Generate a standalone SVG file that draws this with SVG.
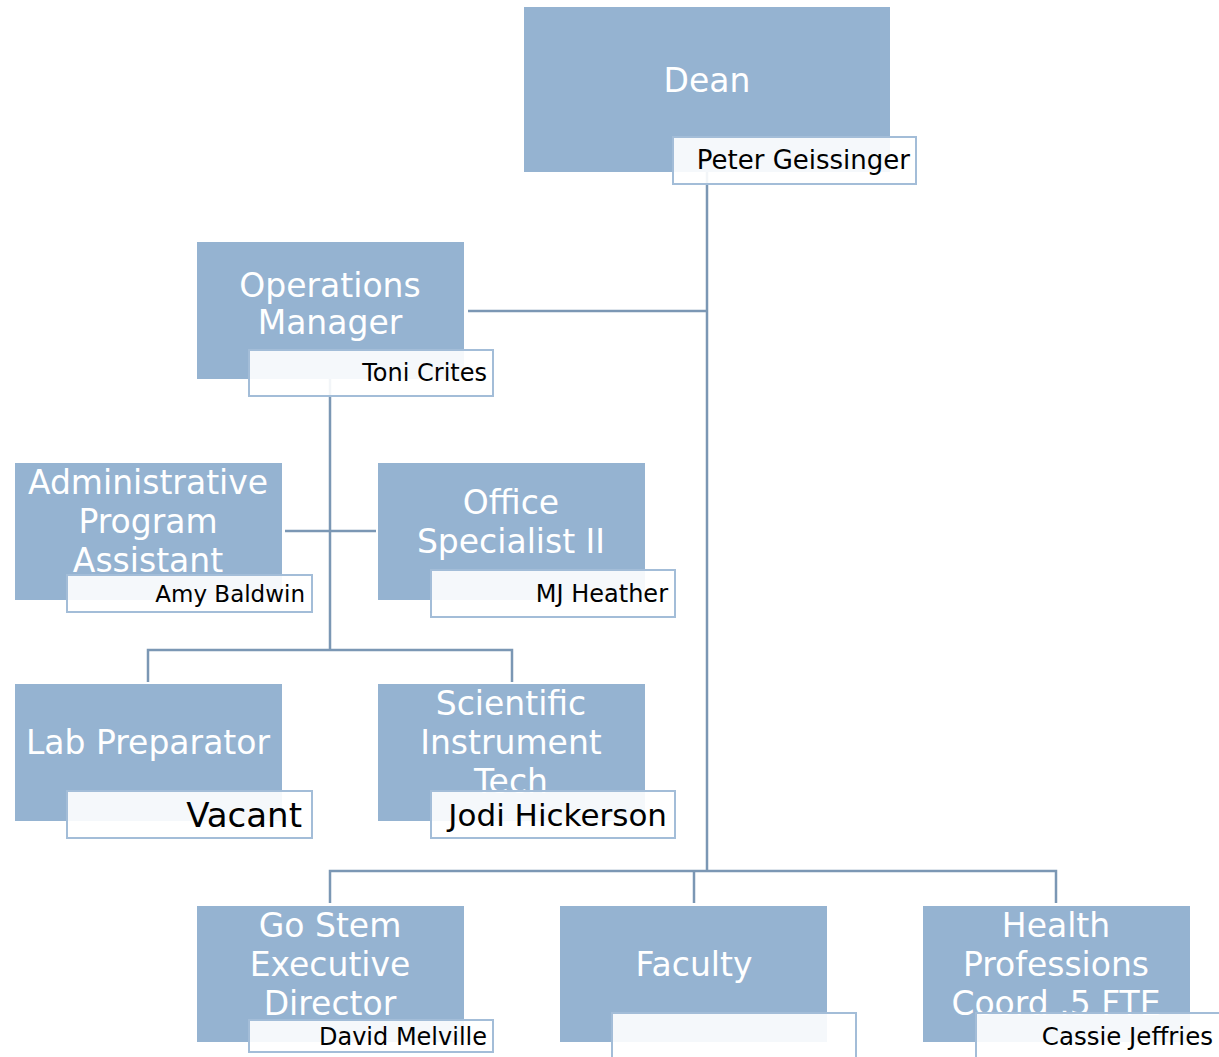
<svg xmlns="http://www.w3.org/2000/svg" width="1219" height="1057" viewBox="0 0 1219 1057">
<style>
.box{fill:#95b3d1}
.name{fill:#ffffff;fill-opacity:0.9;stroke:#a3bdd8;stroke-width:2}
.title{font-family:"DejaVu Sans","Liberation Sans",sans-serif;font-size:33px;fill:#ffffff;text-anchor:middle}
.nm{font-family:"DejaVu Sans","Liberation Sans",sans-serif;font-size:24px;fill:#000000;text-anchor:end}
.conn{stroke:#7b97b4;stroke-width:2.5;fill:none}
</style>
<rect width="1219" height="1057" fill="#ffffff"/>
<g id="connectors">
<path class="conn" d="M707 172 V871"/>
<path class="conn" d="M468 311 H707"/>
<path class="conn" d="M330 379 V650"/>
<path class="conn" d="M285 531 H376"/>
<path class="conn" d="M148 682 V650 H512 V682"/>
<path class="conn" d="M330 903 V871 H1056 V903"/>
<path class="conn" d="M694 871 V903"/>
</g>
<g id="dean">
<rect class="box" x="524" y="7" width="366" height="165"/>
<text class="title" x="707" y="92" style="font-size:33px">Dean</text>
<rect class="name" x="673" y="137" width="243" height="47"/>
<text class="nm" x="910" y="169" style="font-size:26px">Peter Geissinger</text>
</g>
<g id="ops-manager">
<rect class="box" x="197" y="242" width="267" height="137"/>
<text class="title" x="330" y="297">Operations</text>
<text class="title" x="330" y="334">Manager</text>
<rect class="name" x="249" y="350" width="244" height="46"/>
<text class="nm" x="487" y="381">Toni Crites</text>
</g>
<g id="admin-assistant">
<rect class="box" x="15" y="463" width="267" height="137"/>
<text class="title" x="148" y="494">Administrative</text>
<text class="title" x="148" y="533">Program</text>
<text class="title" x="148" y="572">Assistant</text>
<rect class="name" x="67" y="575" width="245" height="37"/>
<text class="nm" x="305" y="602" style="font-size:23px">Amy Baldwin</text>
</g>
<g id="office-specialist">
<rect class="box" x="378" y="463" width="267" height="137"/>
<text class="title" x="511" y="514">Office</text>
<text class="title" x="511" y="553">Specialist II</text>
<rect class="name" x="431" y="570" width="244" height="47"/>
<text class="nm" x="668" y="602">MJ Heather</text>
</g>
<g id="lab-preparator">
<rect class="box" x="15" y="684" width="267" height="137"/>
<text class="title" x="148" y="754">Lab Preparator</text>
<rect class="name" x="67" y="791" width="245" height="47"/>
<text class="nm" x="302" y="827" style="font-size:34px">Vacant</text>
</g>
<g id="scientific-tech">
<rect class="box" x="378" y="684" width="267" height="137"/>
<text class="title" x="511" y="715">Scientific</text>
<text class="title" x="511" y="754">Instrument</text>
<text class="title" x="511" y="793">Tech</text>
<rect class="name" x="431" y="791" width="244" height="47"/>
<text class="nm" x="667" y="826" style="font-size:31px">Jodi Hickerson</text>
</g>
<g id="go-stem">
<rect class="box" x="197" y="906" width="267" height="136"/>
<text class="title" x="330" y="937">Go Stem</text>
<text class="title" x="330" y="976">Executive</text>
<text class="title" x="330" y="1015">Director</text>
<rect class="name" x="249" y="1020" width="244" height="32"/>
<text class="nm" x="487" y="1045">David Melville</text>
</g>
<g id="faculty">
<rect class="box" x="560" y="906" width="267" height="136"/>
<text class="title" x="694" y="976">Faculty</text>
<rect class="name" x="612" y="1013" width="244" height="50"/>
</g>
<g id="health-professions">
<rect class="box" x="923" y="906" width="267" height="136"/>
<text class="title" x="1056" y="937">Health</text>
<text class="title" x="1056" y="976">Professions</text>
<text class="title" x="1056" y="1015">Coord .5 FTE</text>
<rect class="name" x="976" y="1013" width="250" height="50"/>
<text class="nm" x="1213" y="1045" style="font-size:24.5px">Cassie Jeffries</text>
</g>
</svg>
